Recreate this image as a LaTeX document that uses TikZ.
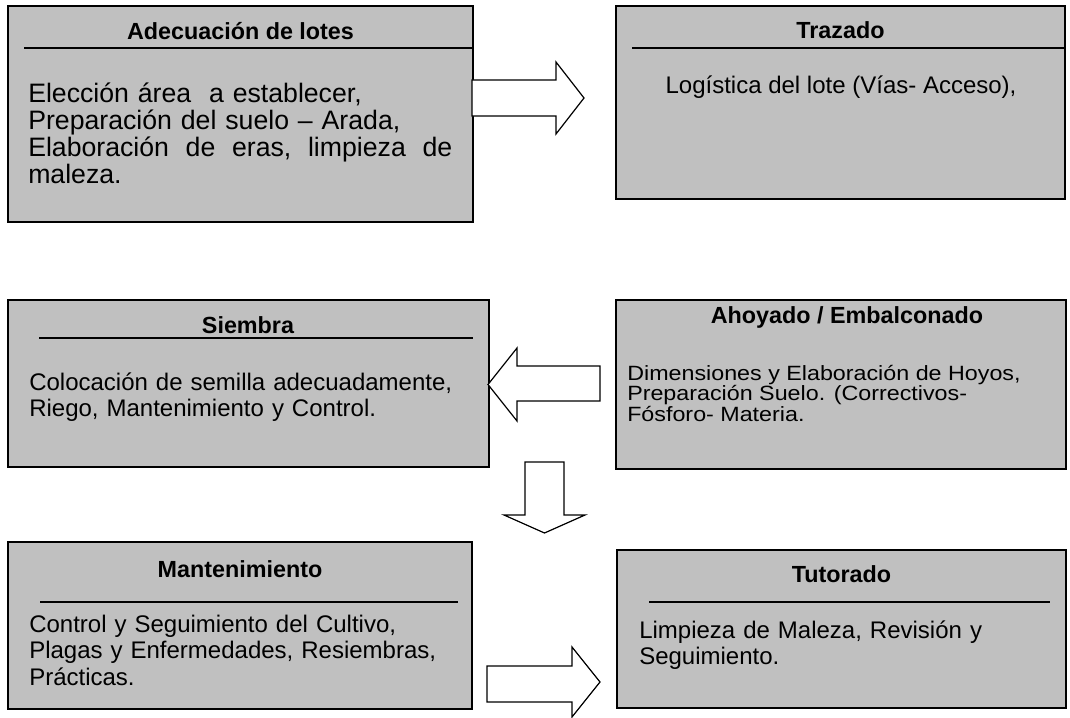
\documentclass[tikz,border=0pt]{standalone}
\usepackage{fontspec}
\usepackage{graphicx}
\setmainfont{Liberation Sans}
\usetikzlibrary{fit}
\definecolor{boxgray}{HTML}{C0C0C0}
\begin{document}
\begin{tikzpicture}[x=0.75pt,y=-0.75pt,
  box/.style={draw=black, line width=1.5pt, fill=boxgray, inner sep=0pt},
  ttl/.style={font=\fontsize{17.5}{20}\selectfont\bfseries, anchor=base, inner sep=0pt},
  body/.style={font=\fontsize{18}{20}\selectfont, anchor=base west, inner sep=0pt, align=left, text width=330pt},
  hrule/.style={line width=1.5pt},
  barrow/.style={draw=black, fill=white, line width=0.9pt, line join=miter}]
\useasboundingbox (0,0) rectangle (1070,717);
% --- Adecuacion de lotes
\coordinate (adecNW) at (8,6); \coordinate (adecSE) at (473,222);
\node[box, fit=(adecNW)(adecSE)] (adec) {};
\node[ttl] (adecT) at (240.5,39.5) {Adecuación de lotes};
\draw[hrule] (24,48) -- (473,48);
\node[body, font=\fontsize{20}{20}\selectfont] (adecB) at (28,103) {Elección área\ \ a establecer,\\
Preparación del suelo – Arada,\\
\makebox[318pt][l]{Elaboración\hfill de\hfill eras,\hfill limpieza\hfill de}\\
maleza.};
% --- Trazado
\coordinate (trazNW) at (616,6); \coordinate (trazSE) at (1065,199);
\node[box, fit=(trazNW)(trazSE)] (traz) {};
\node[ttl] (trazT) at (840.5,39) {Trazado};
\draw[hrule] (632,48) -- (1065,48);
\node[font=\fontsize{18}{20}\selectfont, anchor=base, inner sep=0pt] (trazB) at (841,93.3) {Logística del lote (Vías- Acceso),};
% --- Siembra
\coordinate (siemNW) at (8,300); \coordinate (siemSE) at (489,467);
\node[box, fit=(siemNW)(siemSE)] (siem) {};
\node[ttl] (siemT) at (248,333) {Siembra};
\draw[hrule] (39,338) -- (473,338);
\node[body] (siemB) at (29,390) {Colocación de semilla adecuadamente,\\
Riego, Mantenimiento y Control.};
% --- Ahoyado
\coordinate (ahoyNW) at (616,300); \coordinate (ahoySE) at (1066,469);
\node[box, fit=(ahoyNW)(ahoySE)] (ahoy) {};
\node[ttl] (ahoyT) at (847,323) {Ahoyado / Embalconado};
\node[anchor=base west, inner sep=0pt] (ahoyB) at (627,380) {\scalebox{0.97}[0.86]{\parbox[t]{400pt}{\fontsize{18}{16}\selectfont Dimensiones y Elaboración de Hoyos,\\
Preparación Suelo. (Correctivos-\\
Fósforo- Materia.}}};
% --- Mantenimiento
\coordinate (mantNW) at (8,542); \coordinate (mantSE) at (472,709);
\node[box, fit=(mantNW)(mantSE)] (mant) {};
\node[ttl] (mantT) at (240,577) {Mantenimiento};
\draw[hrule] (40,602) -- (458,602);
\node[body] (mantB) at (29,632) {Control y Seguimiento del Cultivo,\\
Plagas y Enfermedades, Resiembras,\\
Prácticas.};
% --- Tutorado
\coordinate (tutNW) at (617,550); \coordinate (tutSE) at (1066,708);
\node[box, fit=(tutNW)(tutSE)] (tut) {};
\node[ttl] (tutT) at (841.5,582) {Tutorado};
\draw[hrule] (649,602) -- (1050,602);
\node[body] (tutB) at (639,638) {Limpieza de Maleza, Revisión y\\
Seguimiento.};
% --- block arrows
\draw[barrow] (472,80) -- (556,80) -- (556,62) -- (584,98) -- (556,134) -- (556,116) -- (472,116) -- cycle;
\draw[barrow] (600,366) -- (517,366) -- (517,348) -- (488,384.5) -- (517,421) -- (517,401) -- (600,401) -- cycle;
\draw[barrow] (525,462) -- (564,462) -- (564,515) -- (585,515) -- (544.5,533) -- (504,515) -- (525,515) -- cycle;
\draw[barrow] (487,666) -- (572,666) -- (572,647) -- (600,682) -- (572,717) -- (572,702) -- (487,702) -- cycle;
\end{tikzpicture}
\end{document}
